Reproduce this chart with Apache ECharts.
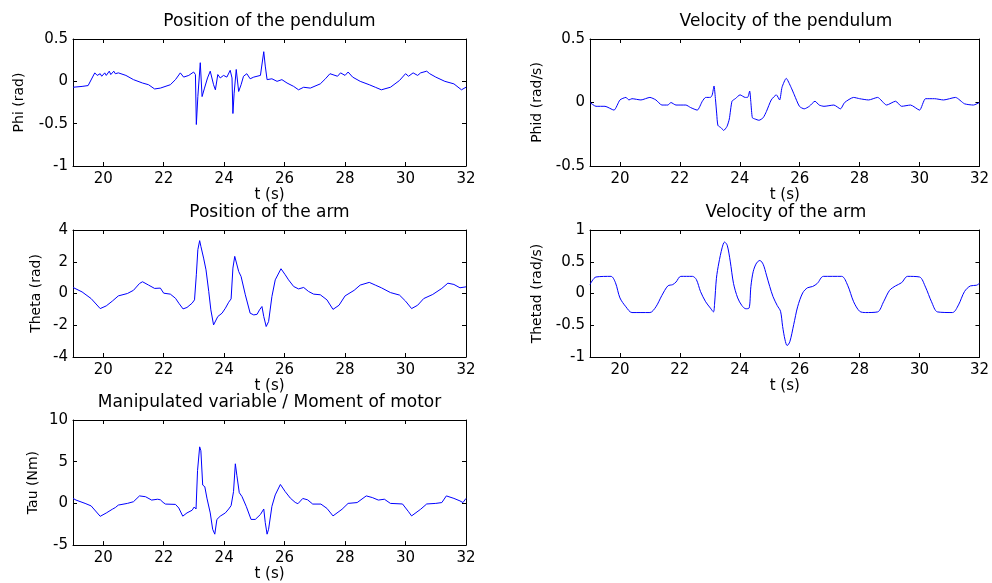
<!DOCTYPE html>
<html>
<head>
<meta charset="utf-8">
<script src="https://cdn.jsdelivr.net/npm/echarts@6/dist/echarts.min.js"></script>
<style>
html,body{margin:0;padding:0;background:#fff}
#chart{width:992px;height:583px}
</style>
</head>
<body>
<div id="chart"></div>
<script>
// x ticks shared by every panel
const xTicks = [20,22,24,26,28,30,32]

// Position of the pendulum
const phiT = [19.0,19.3,19.5,19.72,19.8,19.9,19.95,20.05,20.1,20.2,20.25,20.35,20.4,20.5,20.75,21.0,21.3,21.5,21.7,21.89,22.22,22.39,22.55,22.66,22.83,22.99,23.05,23.08,23.13,23.21,23.27,23.35,23.45,23.54,23.6,23.65,23.71,23.79,23.87,23.98,24.09,24.2,24.26,24.29,24.33,24.4,24.48,24.56,24.64,24.75,24.86,24.98,25.2,25.25,25.31,25.36,25.42,25.58,25.75,25.91,26.08,26.3,26.46,26.63,26.85,27.18,27.35,27.5,27.75,27.85,28.0,28.1,28.25,28.5,28.8,29.0,29.2,29.5,29.8,30.0,30.1,30.25,30.4,30.5,30.7,30.8,31.0,31.3,31.6,31.85,32.0]
const phiV = [-0.07,-0.06,-0.05,0.1,0.07,0.09,0.06,0.1,0.07,0.12,0.08,0.12,0.09,0.1,0.07,0.02,-0.02,-0.04,-0.09,-0.08,-0.04,0.02,0.1,0.05,0.07,0.11,0.08,-0.51,-0.18,0.22,-0.18,-0.08,0.04,0.12,0.1,-0.04,-0.1,0.08,0.04,0.07,0.05,0.13,0.04,-0.38,-0.14,0.14,-0.12,-0.04,0.06,0.09,0.03,0.05,0.07,0.08,0.35,0.18,0.02,0.03,0,0.02,-0.02,-0.06,-0.1,-0.07,-0.08,-0.03,0.03,0.09,0.06,0.1,0.07,0.11,0.05,0,-0.04,-0.07,-0.1,-0.07,0.01,0.09,0.06,0.1,0.07,0.1,0.12,0.09,0.05,0,-0.03,-0.1,-0.07]

// Velocity of the pendulum
const phidT = [19.0,19.2,19.5,19.8,20.0,20.2,20.3,20.4,20.7,21.0,21.2,21.4,21.6,21.7,21.87,22.2,22.36,22.58,22.75,22.86,23.02,23.08,23.14,23.19,23.23,23.27,23.38,23.46,23.57,23.65,23.74,23.85,24.01,24.18,24.26,24.33,24.37,24.42,24.51,24.64,24.78,24.89,25.05,25.22,25.33,25.41,25.55,25.71,25.82,25.99,26.15,26.32,26.51,26.65,26.81,27.14,27.36,27.5,27.8,28.0,28.3,28.6,28.9,29.2,29.4,29.7,30.0,30.2,30.5,30.8,31.2,31.5,31.8,32.0]
const phidV = [0,-0.03,-0.03,-0.06,0.02,0.04,0.02,0.03,0.02,0.04,0.02,-0.02,-0.02,0,-0.02,-0.02,-0.04,-0.06,0.01,0.04,0.04,0.06,0.13,0.02,-0.09,-0.18,-0.2,-0.22,-0.19,-0.13,0.01,0.03,0.06,0.04,0.04,0.09,0,-0.12,-0.13,-0.14,-0.12,-0.07,0.02,0.06,0.02,0.12,0.19,0.12,0.06,-0.03,-0.05,-0.03,0.01,-0.02,-0.03,-0.02,-0.05,0,0.04,0.03,0.02,0.04,-0.02,0.01,-0.03,-0.02,-0.06,0.03,0.03,0.02,0.04,-0.01,-0.02,0]

// Position of the arm
const thetaT = [19.0,19.3,19.6,19.9,20.1,20.3,20.5,20.8,21.0,21.2,21.3,21.5,21.7,21.89,22.0,22.22,22.39,22.5,22.64,22.77,22.94,23.02,23.08,23.13,23.19,23.23,23.32,23.4,23.49,23.56,23.65,23.71,23.79,23.93,24.04,24.15,24.23,24.29,24.35,24.4,24.48,24.56,24.7,24.86,24.98,25.09,25.17,25.25,25.31,25.39,25.47,25.58,25.69,25.88,26.02,26.13,26.3,26.46,26.63,26.79,26.96,27.18,27.4,27.6,27.8,28.0,28.3,28.5,28.8,29.0,29.2,29.5,29.8,30.0,30.2,30.4,30.6,30.9,31.2,31.4,31.6,31.8,32.0]
const thetaV = [0.38,0.1,-0.32,-0.95,-0.78,-0.48,-0.15,0,0.2,0.63,0.74,0.53,0.32,0.34,0.02,-0.04,-0.3,-0.61,-0.97,-0.88,-0.61,-0.4,1.18,2.76,3.33,2.97,2.23,1.49,0.13,-1.03,-1.98,-2.02,-1.45,-1.24,-0.93,-0.55,-0.34,1.6,2.34,2.23,1.39,1.07,-0.08,-1.24,-1.35,-1.31,-1.03,-0.82,-1.45,-2.08,-1.77,-0.19,0.86,1.56,1.18,0.86,0.44,0.29,0.38,0.13,-0.04,-0.08,-0.4,-1.0,-0.74,-0.15,0.2,0.53,0.7,0.53,0.36,0.06,-0.1,-0.48,-0.95,-0.74,-0.32,-0.06,0.32,0.65,0.57,0.36,0.42]

// Velocity of the arm
const thetadT = [19.0,19.2,19.7,19.85,20.0,20.2,20.4,21.0,21.2,21.4,21.6,21.76,21.87,22.03,22.42,22.55,22.69,22.86,23.02,23.12,23.16,23.22,23.3,23.41,23.49,23.58,23.68,23.79,23.93,24.07,24.2,24.31,24.37,24.45,24.56,24.67,24.78,24.89,25.0,25.11,25.25,25.36,25.43,25.51,25.58,25.67,25.8,25.93,26.1,26.26,26.43,26.59,26.79,27.4,27.6,27.8,28.0,28.2,28.6,28.8,29.0,29.2,29.4,29.6,30.0,30.2,30.4,30.6,31.1,31.3,31.5,31.7,31.9,32.0]
const thetadV = [0.14,0.26,0.27,0.17,-0.07,-0.21,-0.3,-0.3,-0.21,-0.03,0.12,0.14,0.18,0.27,0.27,0.22,0.03,-0.13,-0.23,-0.29,-0.15,0.24,0.48,0.72,0.81,0.76,0.51,0.16,-0.07,-0.19,-0.24,-0.23,0.11,0.35,0.48,0.52,0.46,0.29,0.11,-0.05,-0.19,-0.28,-0.52,-0.73,-0.82,-0.76,-0.49,-0.21,0.01,0.09,0.11,0.16,0.27,0.27,0.13,-0.13,-0.28,-0.3,-0.29,-0.13,0.05,0.12,0.17,0.27,0.26,0.1,-0.13,-0.29,-0.3,-0.18,0.03,0.12,0.13,0.16]

// Manipulated variable / moment of motor
const tauT = [19.0,19.1,19.4,19.6,19.9,20.1,20.3,20.4,20.5,20.8,21.0,21.2,21.4,21.6,21.8,21.89,21.98,22.06,22.39,22.5,22.63,22.77,22.94,23.01,23.07,23.12,23.19,23.23,23.29,23.36,23.43,23.54,23.62,23.69,23.76,23.87,24.04,24.15,24.23,24.31,24.37,24.42,24.5,24.59,24.73,24.89,25.03,25.2,25.31,25.36,25.42,25.47,25.58,25.69,25.86,26.02,26.19,26.35,26.44,26.6,26.76,26.93,27.2,27.4,27.6,27.9,28.1,28.4,28.7,28.9,29.1,29.3,29.5,29.9,30.1,30.2,30.5,30.7,31.0,31.2,31.35,31.6,31.8,31.9,32.0]
const tauV = [0.6,0.4,0,-0.3,-1.55,-1.15,-0.7,-0.5,-0.2,0,0.2,0.9,0.8,0.4,0.5,0.43,0.12,-0.08,-0.12,-0.55,-1.53,-1.14,-0.82,-0.43,-0.67,3.96,6.78,6.31,2.2,2.0,0.63,-1.14,-3.1,-3.69,-1.92,-1.53,-1.14,-0.67,-0.27,1.41,4.75,3.37,1.29,0.82,-0.35,-1.92,-1.92,-1.33,-0.67,-2.31,-3.69,-3.1,-0.35,1.02,2.27,1.41,0.63,0.12,-0.04,0.59,0.43,-0.08,-0.08,-0.6,-1.5,-0.7,0,0.1,0.9,0.7,0.4,0.5,0,-0.07,-1.0,-1.5,-0.7,-0.07,0,0.1,0.9,0.6,0.3,0.1,0.6]

const panels = [
  { title:'Position of the pendulum', yName:'Phi (rad)', t:phiT, v:phiV, min:-1, max:0.5, step:0.5, box:[73,39,393,127], gap:47, smooth:false },
  { title:'Velocity of the pendulum', yName:'Phid (rad/s)', t:phidT, v:phidV, min:-0.5, max:0.5, step:0.5, box:[590,39,392,127], gap:46, smooth:0.2 },
  { title:'Position of the arm', yName:'Theta (rad)', t:thetaT, v:thetaV, min:-4, max:4, step:2, box:[73,230,393,127], gap:30, smooth:false },
  { title:'Velocity of the arm', yName:'Thetad (rad/s)', t:thetadT, v:thetadV, min:-1, max:1, step:0.5, box:[590,230,392,127], gap:46, smooth:0.3 },
  { title:'Manipulated variable / Moment of motor', yName:'Tau (Nm)', t:tauT, v:tauV, min:-5, max:10, step:5, box:[73,420,393,128], gap:33, smooth:false },
]

const font = 'DejaVu Sans'
const line = { show:true, onZero:false, lineStyle:{ color:'#000', width:1 } }
const tick = { show:true, inside:true, length:4, lineStyle:{ color:'#000' } }

const grid = [], xAxis = [], yAxis = [], series = [], title = []
panels.forEach((p, i) => {
  const [l, t, w, h] = p.box
  grid.push({ left:l, top:t, width:w, height:h, containLabel:false })
  title.push({ text:p.title, left:l + w / 2, top:t - 26, textAlign:'center', padding:0,
    textStyle:{ fontFamily:font, fontSize:17, fontWeight:'normal', color:'#000' } })
  const xBase = { type:'value', gridIndex:i, min:19, max:32, axisLine:line, splitLine:{ show:false } }
  xAxis.push({ ...xBase, position:'bottom',
    axisTick:{ ...tick, customValues:xTicks },
    axisLabel:{ customValues:xTicks, color:'#000', fontFamily:font, fontSize:15, margin:6 },
    name:'t (s)', nameLocation:'middle', nameGap:21,
    nameTextStyle:{ fontFamily:font, fontSize:15, color:'#000' } })
  xAxis.push({ ...xBase, position:'top', axisTick:{ ...tick, customValues:xTicks }, axisLabel:{ show:false } })
  const yBase = { type:'value', gridIndex:i, min:p.min, max:p.max, interval:p.step, axisLine:line, splitLine:{ show:false }, axisTick:tick }
  yAxis.push({ ...yBase, position:'left',
    axisLabel:{ color:'#000', fontFamily:font, fontSize:15, margin:5 },
    name:p.yName, nameLocation:'middle', nameGap:p.gap,
    nameTextStyle:{ fontFamily:font, fontSize:14, color:'#000' } })
  yAxis.push({ ...yBase, position:'right', axisLabel:{ show:false } })
  series.push({ type:'line', xAxisIndex:2 * i, yAxisIndex:2 * i, symbol:'none', smooth:p.smooth,
    lineStyle:{ color:'#0000ff', width:1 }, data:p.t.map((x, k) => [x, p.v[k]]) })
})

const chart = echarts.init(document.getElementById('chart'))
chart.setOption({ animation:false, backgroundColor:'#fff', textStyle:{ fontFamily:font }, title, grid, xAxis, yAxis, series })
</script>
</body>
</html>
